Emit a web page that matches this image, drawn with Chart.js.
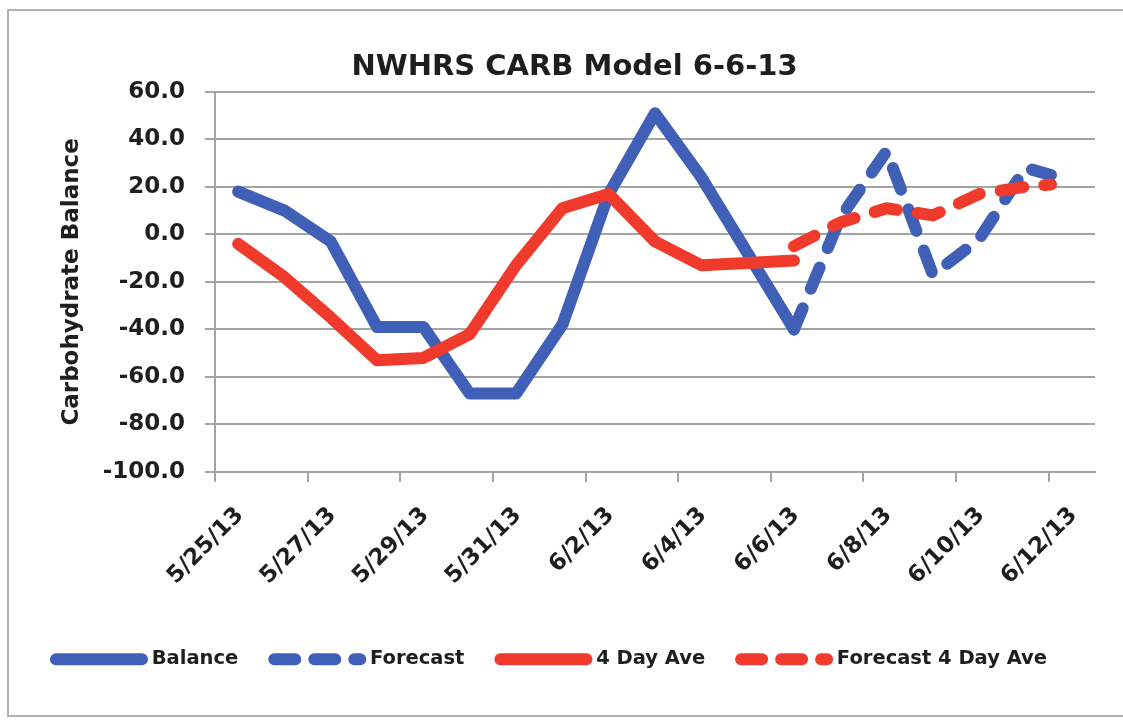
<!DOCTYPE html>
<html>
<head>
<meta charset="utf-8">
<script src="https://cdn.jsdelivr.net/npm/chart.js@4/dist/chart.umd.min.js"></script>
<style>
html,body{margin:0;padding:0;background:#fff;}
#wrap{width:1123px;height:722px;position:relative;}
</style>
</head>
<body>
<div id="wrap"><canvas id="c" width="1123" height="722"></canvas></div>
<script>
// ---- data ----
const chartTitle = 'NWHRS CARB Model 6-6-13';
const yTitle = 'Carbohydrate Balance';
const seriesNames = ['Balance', 'Forecast', '4 Day Ave', 'Forecast 4 Day Ave'];
// x-axis tick dates (days since 5/25/13)
const tickDays = [0, 2, 4, 6, 8, 10, 12, 14, 16, 18];
const tickLabels = ['5/25/13', '5/27/13', '5/29/13', '5/31/13', '6/2/13', '6/4/13', '6/6/13', '6/8/13', '6/10/13', '6/12/13'];
// observed readings (time in days since 5/25/13)
const observedDays = [0.5, 1.5, 2.5, 3.5, 4.5, 5.5, 6.5, 7.5, 8.5, 9.5, 10.5, 11.5, 12.5];
const balanceValues = [18, 10, -3, -39, -39, -67, -67, -38, 17, 51, 24, -8, -40];
const aveValues = [-4, -18, -35, -53, -52, -42, -13, 11, 17, -3, -13, -12, -11];
// forecast readings
const forecastDays = [12.5, 13.5, 14.5, 15.5, 16.5, 17.5, 18.05];
const forecastValues = [-40, 7, 35, -17, -2, 28, 25];
const forecastAveValues = [-5, 5, 11, 8, 17, 20, 21];

const BLUE = '#4060b8';
const RED = '#f03a2c';
const GRID = '#a4a4a4';
const TEXT = '#1e1e1e';
const FONT = "'DejaVu Sans', sans-serif";
const DASH = [23, 21];
const LEGEND_DASH = [21, 19];

function pts(xs, ys) { return xs.map((x, i) => ({x: x, y: ys[i]})); }

const frame = {
  id: 'frame',
  beforeDraw(chart) {
    const ctx = chart.ctx;
    ctx.save();
    ctx.fillStyle = '#fff';
    ctx.fillRect(0, 0, chart.width, chart.height);
    ctx.strokeStyle = '#b0b0b0';
    ctx.lineWidth = 2;
    ctx.strokeRect(8, 10, 1140, 706);
    ctx.restore();
  },
  afterLayout(chart) {
    if (chart.titleBlock) { chart.titleBlock.left += 23; chart.titleBlock.right += 23; }
  }
};

const lineBase = {
  borderWidth: 12, pointRadius: 0, pointHoverRadius: 0, tension: 0,
  borderJoinStyle: 'round', borderCapStyle: 'round', fill: false
};

new Chart(document.getElementById('c'), {
  type: 'line',
  data: {
    datasets: [
      Object.assign({}, lineBase, {label: seriesNames[0], data: pts(observedDays, balanceValues), borderColor: BLUE, backgroundColor: BLUE, order: 2}),
      Object.assign({}, lineBase, {label: seriesNames[1], data: pts(forecastDays, forecastValues), borderColor: BLUE, backgroundColor: BLUE, borderDash: DASH, order: 2}),
      Object.assign({}, lineBase, {label: seriesNames[2], data: pts(observedDays, aveValues), borderColor: RED, backgroundColor: RED, order: 1}),
      Object.assign({}, lineBase, {label: seriesNames[3], data: pts(forecastDays, forecastAveValues), borderColor: RED, backgroundColor: RED, borderDash: DASH, order: 1})
    ]
  },
  options: {
    responsive: false,
    animation: false,
    layout: {padding: {left: 8, right: 28, top: 10, bottom: 43}},
    plugins: {
      tooltip: {enabled: false},
      title: {
        display: true, text: chartTitle, color: TEXT,
        font: {family: FONT, size: 29, weight: 'bold'},
        padding: {top: 40, bottom: 7}
      },
      legend: {
        position: 'bottom',
        labels: {
          color: TEXT,
          font: {family: FONT, size: 19.5, weight: 'bold'},
          usePointStyle: true,
          pointStyleWidth: 86,
          padding: 36,
          generateLabels(chart) {
            return chart.data.datasets.map((ds, i) => ({
              text: ds.label,
              fillStyle: ds.borderColor,
              strokeStyle: ds.borderColor,
              lineWidth: 12,
              lineDash: ds.borderDash ? LEGEND_DASH : [],
              lineCap: 'round',
              lineJoin: 'round',
              pointStyle: 'line',
              fontColor: TEXT,
              hidden: false,
              datasetIndex: i
            }));
          }
        }
      }
    },
    scales: {
      x: {
        type: 'linear', min: 0, max: 19,
        afterBuildTicks(scale) { scale.ticks = tickDays.map(v => ({value: v})); },
        afterFit(scale) { scale.height = 141.5; },
        grid: {drawOnChartArea: false, drawTicks: true, tickLength: 10, color: GRID, lineWidth: 2},
        border: {display: true, color: GRID, width: 2},
        ticks: {
          color: TEXT, font: {family: FONT, size: 23, weight: 'bold'},
          maxRotation: 45, minRotation: 45, autoSkip: false, padding: 20, labelOffset: 25,
          callback(v, i) { return tickLabels[i]; }
        }
      },
      y: {
        min: -100, max: 60,
        afterFit(scale) { scale.width = 207; },
        grid: {color: GRID, lineWidth: 2, tickLength: 10, drawTicks: true},
        border: {display: true, color: GRID, width: 2},
        ticks: {
          stepSize: 20, color: TEXT, padding: 20,
          font: {family: FONT, size: 23, weight: 'bold'},
          callback(v) { return v.toFixed(1); }
        },
        title: {
          display: true, text: yTitle, color: TEXT,
          font: {family: FONT, size: 23, weight: 'bold'},
          padding: {top: 50, bottom: 0}
        }
      }
    }
  },
  plugins: [frame]
});
</script>
</body>
</html>
